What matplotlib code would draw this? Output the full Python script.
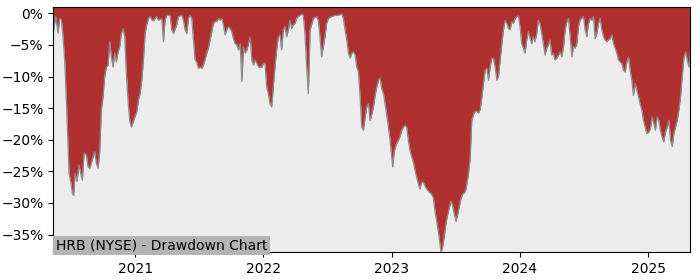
import numpy as np
import pandas as pd
import matplotlib
matplotlib.use("Agg")
import matplotlib.pyplot as plt
import matplotlib.dates as mdates
from matplotlib.ticker import PercentFormatter

# time as fractional year, drawdown in percent
t_2020 = [2020.362, 2020.381, 2020.399, 2020.412, 2020.425, 2020.438, 2020.451, 2020.464, 2020.477, 2020.485,
          2020.498, 2020.511, 2020.521, 2020.532, 2020.547, 2020.563, 2020.576, 2020.589, 2020.602, 2020.620,
          2020.633, 2020.646, 2020.659, 2020.672, 2020.685, 2020.698, 2020.711, 2020.724, 2020.737, 2020.750,
          2020.763, 2020.776, 2020.789, 2020.802, 2020.815, 2020.828, 2020.841, 2020.854, 2020.867, 2020.880,
          2020.893, 2020.906, 2020.919, 2020.932, 2020.945, 2020.958, 2020.971, 2020.985, 2020.998]
dd_2020 = [-3.0, -0.5, -3.2, -0.8, -1.0, -3.7, -7.4, -13.7, -21.1, -25.3,
           -26.6, -28.5, -28.8, -25.3, -26.6, -24.0, -25.3, -26.4, -22.1, -22.4,
           -24.3, -24.5, -23.7, -22.7, -21.9, -23.7, -24.5, -21.9, -15.3, -13.2,
           -10.0, -8.5, -8.2, -4.5, -6.9, -8.5, -6.3, -7.7, -6.1, -5.3,
           -3.2, -2.4, -3.7, -9.5, -13.7, -16.9, -18.0, -17.2, -16.4]

t_2021 = [2021.011, 2021.024, 2021.037, 2021.050, 2021.063, 2021.076, 2021.089, 2021.102, 2021.115, 2021.128,
          2021.141, 2021.154, 2021.167, 2021.180, 2021.206, 2021.219, 2021.232, 2021.245, 2021.271, 2021.284,
          2021.297, 2021.323, 2021.336, 2021.362, 2021.375, 2021.388, 2021.401, 2021.414, 2021.427, 2021.440,
          2021.453, 2021.466, 2021.479, 2021.492, 2021.505, 2021.518, 2021.531, 2021.544, 2021.557, 2021.570,
          2021.583, 2021.596, 2021.609, 2021.622, 2021.635, 2021.648, 2021.661, 2021.674, 2021.687, 2021.700,
          2021.713, 2021.726, 2021.739, 2021.752, 2021.765, 2021.778, 2021.791, 2021.805, 2021.818, 2021.831,
          2021.844, 2021.857, 2021.870, 2021.883, 2021.896, 2021.909, 2021.922, 2021.935, 2021.948, 2021.961,
          2021.987]
dd_2021 = [-15.6, -13.7, -12.7, -10.6, -7.4, -3.2, -1.8, -0.8, -0.5, -1.0,
           -1.2, -0.8, -0.5, -1.1, -0.8, -4.5, -1.1, -0.3, -0.3, -2.6,
           -3.2, -1.8, -0.5, -0.3, -1.1, -2.6, -3.2, -0.8, -0.3, -0.8,
           -4.2, -7.4, -7.7, -8.7, -8.5, -8.7, -8.2, -7.3, -6.3, -5.5,
           -4.2, -2.9, -1.6, -1.3, -1.3, -0.8, -1.1, -0.8, -1.8, -3.4,
           -2.6, -2.1, -2.4, -2.9, -4.0, -4.8, -5.0, -5.8, -4.8, -10.8,
           -5.3, -6.3, -5.8, -4.8, -3.7, -7.4, -8.2, -7.4, -7.9, -8.5,
           -8.5]

t_2022 = [2022.000, 2022.012, 2022.025, 2022.038, 2022.051, 2022.064, 2022.077, 2022.090, 2022.103, 2022.116,
          2022.129, 2022.142, 2022.155, 2022.168, 2022.181, 2022.194, 2022.207, 2022.220, 2022.233, 2022.246,
          2022.259, 2022.272, 2022.285, 2022.298, 2022.311, 2022.324, 2022.337, 2022.350, 2022.358, 2022.363,
          2022.376, 2022.389, 2022.415, 2022.428, 2022.441, 2022.454, 2022.467, 2022.480, 2022.493, 2022.506,
          2022.532, 2022.558, 2022.584, 2022.610, 2022.624, 2022.637, 2022.650, 2022.663, 2022.676, 2022.689,
          2022.702, 2022.715, 2022.728, 2022.741, 2022.754, 2022.767, 2022.780, 2022.793, 2022.806, 2022.819,
          2022.832, 2022.845, 2022.858, 2022.871, 2022.884, 2022.897, 2022.910, 2022.923, 2022.936, 2022.949,
          2022.962, 2022.975, 2022.988]
dd_2022 = [-7.9, -7.9, -11.6, -12.7, -14.3, -14.8, -11.6, -8.5, -5.8, -3.7,
           -3.4, -5.8, -2.6, -2.1, -3.7, -2.6, -1.1, -2.4, -1.8, -1.6,
           -0.8, -0.5, -0.3, -0.1, -0.3, -3.2, -8.5, -12.7, -7.4, -2.6,
           -1.8, -0.8, -0.5, -1.1, -3.7, -6.9, -5.3, -3.7, -1.6, -0.8,
           -0.5, -0.3, -0.3, -0.1, -0.8, -2.6, -4.2, -6.3, -7.1, -6.3,
           -6.1, -6.6, -8.5, -9.3, -13.2, -18.0, -18.5, -16.4, -14.8, -14.3,
           -17.0, -16.0, -14.8, -13.0, -11.6, -10.6, -10.2, -11.9, -12.7, -14.3,
           -16.1, -18.0, -20.1]

t_2023 = [2023.001, 2023.009, 2023.022, 2023.040, 2023.053, 2023.066, 2023.079, 2023.092, 2023.105, 2023.118,
          2023.131, 2023.144, 2023.157, 2023.170, 2023.183, 2023.196, 2023.209, 2023.222, 2023.235, 2023.248,
          2023.261, 2023.274, 2023.287, 2023.300, 2023.313, 2023.326, 2023.339, 2023.352, 2023.365, 2023.378,
          2023.386, 2023.397, 2023.410, 2023.423, 2023.438, 2023.451, 2023.464, 2023.477, 2023.490, 2023.503,
          2023.516, 2023.529, 2023.542, 2023.555, 2023.568, 2023.581, 2023.600, 2023.613, 2023.626, 2023.639,
          2023.652, 2023.665, 2023.678, 2023.691, 2023.704, 2023.717, 2023.730, 2023.743, 2023.756, 2023.769,
          2023.782, 2023.795, 2023.808, 2023.821, 2023.834, 2023.847, 2023.860, 2023.873, 2023.886, 2023.899,
          2023.912, 2023.925, 2023.938, 2023.951, 2023.964, 2023.977, 2023.990]
dd_2023 = [-22.7, -24.3, -21.7, -20.6, -20.1, -19.5, -18.5, -18.0, -17.7, -18.0,
           -20.1, -21.7, -22.7, -23.5, -24.8, -25.9, -27.0, -27.8, -26.7, -26.7,
           -27.3, -27.8, -28.1, -28.4, -28.6, -29.2, -31.3, -32.9, -34.5, -36.6,
           -37.8, -37.1, -35.5, -33.4, -31.8, -30.7, -29.7, -30.5, -31.8, -32.9,
           -31.8, -30.5, -29.2, -28.6, -28.4, -27.8, -25.4, -23.0, -17.0, -16.0,
           -15.5, -15.5, -15.8, -15.2, -13.4, -11.1, -9.0, -8.7, -10.6, -8.5,
           -7.1, -7.1, -8.5, -10.6, -10.0, -7.4, -4.8, -2.6, -1.1, -1.6,
           -2.4, -2.6, -1.3, -1.6, -0.8, -0.5, -0.4]

t_2024 = [2024.003, 2024.016, 2024.029, 2024.042, 2024.055, 2024.068, 2024.081, 2024.094, 2024.107, 2024.120,
          2024.133, 2024.146, 2024.159, 2024.172, 2024.185, 2024.198, 2024.211, 2024.224, 2024.237, 2024.250,
          2024.263, 2024.276, 2024.290, 2024.303, 2024.316, 2024.329, 2024.342, 2024.355, 2024.368, 2024.381,
          2024.394, 2024.407, 2024.420, 2024.433, 2024.446, 2024.459, 2024.472, 2024.498, 2024.511, 2024.524,
          2024.537, 2024.550, 2024.563, 2024.576, 2024.589, 2024.602, 2024.615, 2024.628, 2024.641, 2024.654,
          2024.667, 2024.680, 2024.693, 2024.706, 2024.719, 2024.732, 2024.745, 2024.758, 2024.771, 2024.784,
          2024.797, 2024.810, 2024.823, 2024.836, 2024.849, 2024.862, 2024.875, 2024.888, 2024.901, 2024.914,
          2024.927, 2024.940, 2024.953, 2024.966, 2024.979, 2024.992]
dd_2024 = [-2.1, -4.8, -5.5, -6.3, -4.2, -2.9, -3.9, -4.8, -3.7, -4.5,
           -3.2, -1.1, -1.6, -3.2, -4.8, -6.6, -5.5, -5.0, -4.2, -6.6,
           -6.3, -7.4, -7.1, -6.6, -6.1, -6.9, -5.3, -2.6, -1.3, -0.8,
           -3.7, -6.9, -5.3, -5.5, -4.8, -2.1, -1.0, -0.5, -2.6, -3.7,
           -1.6, -0.8, -1.1, -0.5, -4.0, -3.2, -1.6, -0.8, -2.6, -3.7,
           -4.2, -4.5, -4.2, -4.0, -3.4, -4.8, -5.5, -6.3, -7.4, -7.7,
           -7.9, -9.0, -9.3, -7.7, -6.9, -9.0, -10.6, -13.0, -11.1, -12.2,
           -13.2, -14.3, -15.3, -16.9, -18.0, -19.0]

t_2025 = [2025.005, 2025.018, 2025.031, 2025.044, 2025.057, 2025.070, 2025.083, 2025.096, 2025.109, 2025.122,
          2025.135, 2025.149, 2025.162, 2025.175, 2025.188, 2025.201, 2025.214, 2025.227, 2025.240, 2025.253,
          2025.266, 2025.279, 2025.292, 2025.305, 2025.318, 2025.331]
dd_2025 = [-18.8, -18.2, -16.4, -17.4, -18.5, -16.4, -16.9, -18.5, -19.6, -20.3,
           -18.8, -18.0, -16.9, -20.1, -21.1, -19.0, -18.0, -16.9, -15.3, -13.2,
           -10.0, -7.1, -6.1, -7.4, -8.5, -6.1]

ticker = "HRB (NYSE)"

years = np.array(t_2020 + t_2021 + t_2022 + t_2023 + t_2024 + t_2025)
drawdown = np.array(dd_2020 + dd_2021 + dd_2022 + dd_2023 + dd_2024 + dd_2025)

# fractional year -> datetime
yr = np.floor(years).astype(int)
start = pd.to_datetime(pd.Series(yr).astype(str) + "-01-01")
dates = start + pd.to_timedelta((years - yr) * 365.25, unit="D")

fig = plt.figure(figsize=(7, 2.8), dpi=100)
ax = fig.add_axes([0.076, 0.099, 0.91, 0.876])
ax.set_facecolor("#ececec")

ymin, ymax = drawdown.min(), 1.0
# red area runs from the curve up to the top of the axes
ax.fill_between(dates, drawdown, ymax, color="#b03030", lw=0)
ax.plot(dates, drawdown, color="#8c8c8c", lw=0.9)

ax.set_xlim(pd.Timestamp("2020-05-12"), pd.Timestamp("2025-05-01"))
ax.set_ylim(ymin, ymax)
ax.set_yticks(np.arange(0, -36, -5))
ax.yaxis.set_major_formatter(PercentFormatter(xmax=100, decimals=0))
ax.xaxis.set_major_locator(mdates.YearLocator())
ax.xaxis.set_major_formatter(mdates.DateFormatter("%Y"))
ax.tick_params(labelsize=10)

ax.text(0.004, 0.0, ticker + " - Drawdown Chart", transform=ax.transAxes,
        fontsize=10, ha="left", va="bottom",
        bbox=dict(facecolor="#b4b4b4", edgecolor="none", pad=2))

fig.savefig("out.png", dpi=100)
